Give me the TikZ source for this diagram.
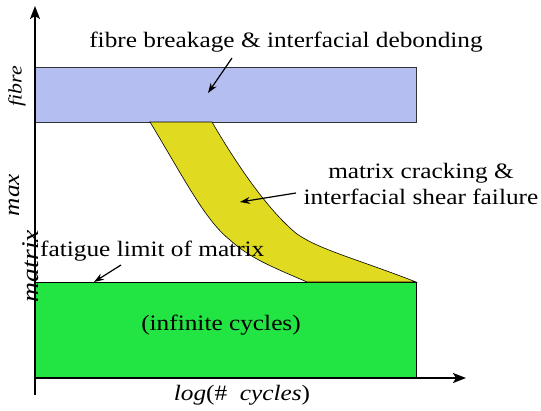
\documentclass[tikz,border=0pt]{standalone}
\usepackage{fontspec}
\setmainfont{Liberation Serif}[FakeStretch=1.15]
\usetikzlibrary{arrows.meta}
\begin{document}
\begin{tikzpicture}[x=1pt,y=-1pt,
  lbl/.style={font=\fontsize{22}{26}\selectfont, inner sep=0pt},
  axislbl/.style={font=\fontsize{22}{26}\selectfont\itshape, inner sep=0pt, rotate=90},
  ptr/.style={-{Stealth[length=10pt,width=7pt]}, line width=1.2pt},
  axis/.style={-{Stealth[length=13pt,width=10pt,inset=3pt]}, line width=2pt}]
\useasboundingbox (0,0) rectangle (541,410);
% regions
\node[draw=black!80, fill={rgb,255:red,180;green,190;blue,240}, line width=0.8pt, minimum width=381pt, minimum height=55pt, anchor=north west, inner sep=0pt] (fibre) at (35,67) {};
\node[draw=black, fill={rgb,255:red,34;green,229;blue,68}, line width=0.8pt, minimum width=381pt, minimum height=96pt, anchor=north west, inner sep=0pt] (matrixbox) at (35,282) {};
\draw[fill={rgb,255:red,224;green,218;blue,32}, line width=0.6pt]
  (150,122) .. controls (185,180) and (205,220) .. (230,240)
  .. controls (250,258) and (270,266) .. (307,282)
  -- (416,282)
  .. controls (360,260) and (320,250) .. (297,234)
  .. controls (270,212) and (240,170) .. (212,122) -- cycle;
\coordinate (band) at (240,202);
% axes
\coordinate (o) at (35,378);
\coordinate (ytop) at (35,6);
\coordinate (xend) at (466,378);
\coordinate (ybot) at (35,395);
\draw[axis] (ybot) -- (ytop);
\draw[axis] (o) -- (xend);
% labels
\node[lbl] (t1) at (286,42) {fibre breakage \& interfacial debonding};
\draw[ptr] (232,58) -- (208,93);
\node[lbl, align=center] (t2) at (421,184) {matrix cracking \&\\interfacial shear failure};
\draw[ptr] (296,193) -- (band);
\node[lbl, anchor=west] (t3) at (40,251) {fatigue limit of matrix};
\draw[ptr] (121,265) -- (94,282);
\node[lbl] (t4) at (221,325) {(infinite cycles)};
\node[lbl] (t5) at (242,395) {\textit{log}(\# \ \textit{cycles})};
\node[axislbl, font=\fontsize{19}{22}\selectfont\itshape] (yl1) at (17,86) {fibre};
\node[axislbl] (yl2) at (14,195) {max};
\node[axislbl, font=\fontsize{24}{28}\selectfont\itshape] (yl3) at (31,266) {matrix};
\end{tikzpicture}
\end{document}
